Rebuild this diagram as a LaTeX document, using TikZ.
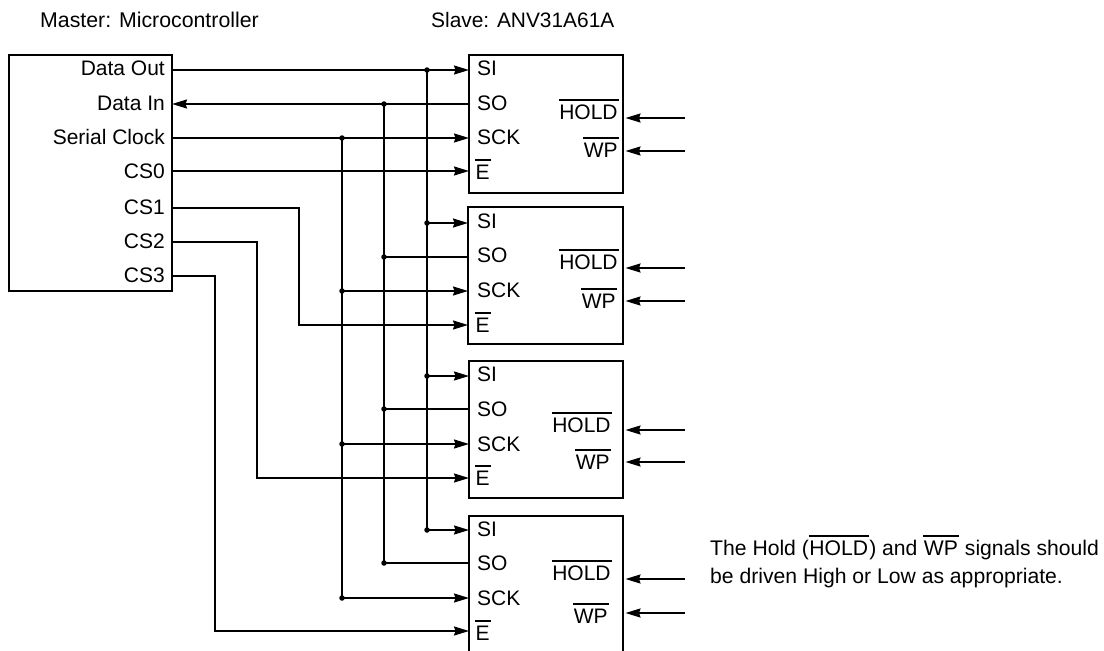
\documentclass[tikz,border=0pt]{standalone}
\usepackage{fontspec}
\setmainfont{Liberation Sans}
\usetikzlibrary{arrows.meta}
\newcommand{\ovl}[1]{\leavevmode\vbox{\hrule height 1.6pt\kern 3.6pt\hbox{\kern 0.4pt #1\kern 1.2pt}}}
\tikzset{
  lab/.style={inner sep=0pt,font=\fontsize{21}{25}\selectfont},
  labt/.style={inner sep=0pt,font=\fontsize{20.9}{25}\selectfont},
  labm/.style={inner sep=0pt,font=\fontsize{21.3}{25}\selectfont},
  labn/.style={inner sep=0pt,font=\fontsize{21.15}{25}\selectfont},
  wire/.style={line width=1.9pt},
  awire/.style={wire,-{Stealth[length=15pt,width=9pt,inset=1.5pt]}},
  boxline/.style={line width=1.9pt},
  dot/.style={circle,fill=black,inner sep=0pt,minimum size=5.5pt}
}
\begin{document}
\begin{tikzpicture}[x=1pt,y=-1pt]
\useasboundingbox (0,0) rectangle (1104,651);
% titles
\node[labm,anchor=base west] (tm) at (40,27) {Master: Microcontroller};
\node[labt,anchor=base west] (ts) at (431,27) {Slave: ANV31A61A};
% master
\draw[boxline] (9,55) rectangle (172,291);
\foreach \nm/\t/\yb/\yp in {do/Data Out/75/70,di/Data In/110/104,sc/Serial Clock/144/138,c0/CS0/178/171,c1/CS1/214/208,c2/CS2/248/242,c3/CS3/282/276}{
  \node[lab,anchor=base east] (l\nm) at (165,\yb) {\t};
  \coordinate (m\nm) at (172,\yp);
}
% slaves
\foreach \n/\xl/\yt/\yb/\ysi/\yso/\yck/\ye/\bsi/\bso/\bck/\be/\xh/\bh/\xw/\bw/\ah/\aw in {
  1/469/55/193/70/104/138/171/75/110/144/179/619/119/619/157/118/151,
  2/468/207/344/223/257/291/325/228/262/297/332/619/269/617/308/268/301,
  3/469/361/498/376/409/444/478/381/416/451/485/612/432/611/469/430/462,
  4/469/516/654/530/563/598/631/536/570/605/640/612/580/609/623/579/613}{
  \draw[boxline] (\xl,\yt) rectangle (623,\yb);
  \node[lab,anchor=base west] (ssi\n) at (477,\bsi) {SI};
  \node[lab,anchor=base west] (sso\n) at (477,\bso) {SO};
  \node[lab,anchor=base west] (sck\n) at (477,\bck) {SCK};
  \node[lab,anchor=base west] (se\n) at (475,\be) {\ovl{E}};
  \node[lab,anchor=base east] (sh\n) at (\xh,\bh) {\ovl{HOLD}};
  \node[lab,anchor=base east] (sw\n) at (\xw,\bw) {\ovl{WP}};
  \coordinate (psi\n) at (\xl,\ysi);
  \coordinate (pso\n) at (\xl,\yso);
  \coordinate (pck\n) at (\xl,\yck);
  \coordinate (pe\n) at (\xl,\ye);
  \coordinate (fh\n) at (685,\ah);
  \coordinate (th\n) at (625.5,\ah);
  \coordinate (fw\n) at (685,\aw);
  \coordinate (tw\n) at (625.5,\aw);
  \draw[awire] (fh\n) -- (th\n);
  \draw[awire] (fw\n) -- (tw\n);
  \node[dot] at (427,\ysi) (jsi\n) {};
  \node[dot] at (384,\yso) (jso\n) {};
  \node[dot] at (342,\yck) (jck\n) {};
}
% bus: first slave
\draw[awire] (mdo) -- (psi1);
\draw[wire] (pso1) -- (jso1.center);
\draw[awire] (jso1.center) -- (mdi);
\draw[awire] (msc) -- (pck1);
\draw[awire] (mc0) -- (pe1);
% branches
\foreach \n in {2,3,4}{
  \draw[awire] (jsi\n.center) -- (psi\n);
  \draw[wire] (jso\n.center) -- (pso\n);
  \draw[awire] (jck\n.center) -- (pck\n);
}
% trunks
\draw[wire] (jsi1.center) -- (jsi4.center);
\draw[wire] (jso1.center) -- (jso4.center);
\draw[wire] (jck1.center) -- (jck4.center);
% chip selects
\draw[awire] (mc1) -| (299,325) -- (pe2);
\draw[awire] (mc2) -| (257,478) -- (pe3);
\draw[awire] (mc3) -| (215,631) -- (pe4);
% note
\node[labn,anchor=base west] (n1) at (710,555) {The Hold (\ovl{HOLD}) and \ovl{WP} signals should};
\node[labn,anchor=base west] (n2) at (710,583) {be driven High or Low as appropriate.};
\end{tikzpicture}
\end{document}
